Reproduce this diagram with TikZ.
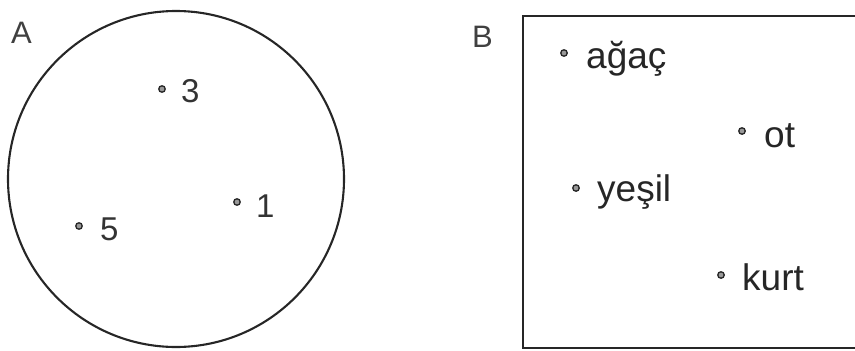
\documentclass[tikz,border=0pt]{standalone}
\usepackage{fontspec}
\setmainfont{Liberation Sans}
\begin{document}
\begin{tikzpicture}[x=1pt,y=-1pt,
  dotmark/.style={circle,draw=black!85,fill=black!40,line width=1.3pt,minimum size=6.5pt,inner sep=0pt},
  lblA/.style={anchor=base west,inner sep=0pt,font=\fontsize{33}{38}\selectfont,text=black!80},
  lblB/.style={anchor=base west,inner sep=0pt,font=\fontsize{37}{42}\selectfont,text=black!85},
  title/.style={anchor=base west,inner sep=0pt,font=\fontsize{31}{36}\selectfont,text=black!75}]
\useasboundingbox (0,0) rectangle (855,351);
\clip (0,0) rectangle (855,351);
% panel A
\node[title] (tA) at (11,43) {A};
\draw[line width=2.1pt,black!85] (176,179) circle (168);
\node[dotmark] (d3) at (162,89) {};
\node[lblA] (t3) at (181,102) {3};
\node[dotmark] (d1) at (237,202) {};
\node[lblA] (t1) at (256,217) {1};
\node[dotmark] (d5) at (79,226) {};
\node[lblA] (t5) at (100,240) {5};
% panel B
\node[title] (tB) at (472,47) {B};
\draw[line width=2.6pt,black!85] (523,16) rectangle (880,348);
\node[dotmark] (da) at (564,53) {};
\node[lblB] (ta) at (586,68) {ağaç};
\node[dotmark] (do) at (742,131) {};
\node[lblB] (to) at (764,147) {ot};
\node[dotmark] (dy) at (576,188) {};
\node[lblB] (ty) at (597,201) {yeşil};
\node[dotmark] (dk) at (721,275) {};
\node[lblB] (tk) at (742,290) {kurt};
\end{tikzpicture}
\end{document}
